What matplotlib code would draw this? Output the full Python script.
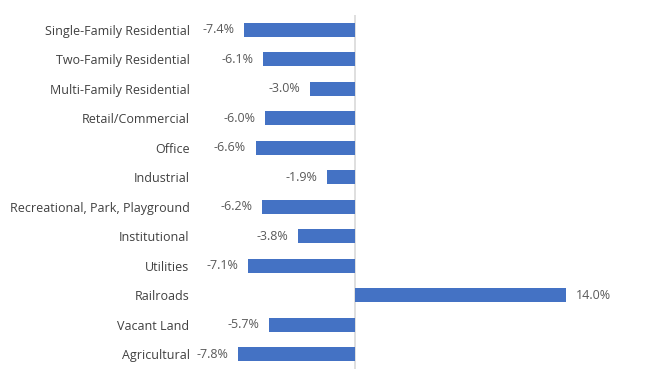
import matplotlib
matplotlib.use("Agg")
import matplotlib.pyplot as plt

plt.rcParams['font.family'] = ['Open Sans', 'DejaVu Sans']

categories = ['Single-Family Residential', 'Two-Family Residential', 'Multi-Family Residential',
              'Retail/Commercial', 'Office', 'Industrial', 'Recreational, Park, Playground',
              'Institutional', 'Utilities', 'Railroads', 'Vacant Land', 'Agricultural']
values = [-7.4, -6.1, -3.0, -6.0, -6.6, -1.9, -6.2, -3.8, -7.1, 14.0, -5.7, -7.8]

fig = plt.figure(figsize=(6.72, 3.84), dpi=100)
W, H = 672, 384
left, right, top, bottom = 225.7, 626.6, 15, 369
ax = fig.add_axes([left / W, 1 - bottom / H, (right - left) / W, (bottom - top) / H])

y = list(range(len(categories)))
ax.barh(y, values, height=0.48, color='#4472C4', zorder=2)
ax.axvline(0, color='#D9D9D9', lw=1.2, zorder=1)
ax.set_xlim(-8.6, 18)
ax.set_ylim(len(categories) - 0.5, -0.5)

ax.set_yticks(y)
ax.set_yticklabels(categories, fontsize=9, color='#404040')
ax.tick_params(axis='y', length=0, pad=26)
ax.set_xticks([])
for s in ax.spines.values():
    s.set_visible(False)

for yi, v in zip(y, values):
    off = 7 if v >= 0 else -7
    ax.annotate(f'{v:.1f}%', (v, yi), xytext=(off, 0), textcoords='offset points',
                ha='left' if v >= 0 else 'right', va='center', fontsize=9, color='#595959')

fig.savefig('out.png', dpi=100)
